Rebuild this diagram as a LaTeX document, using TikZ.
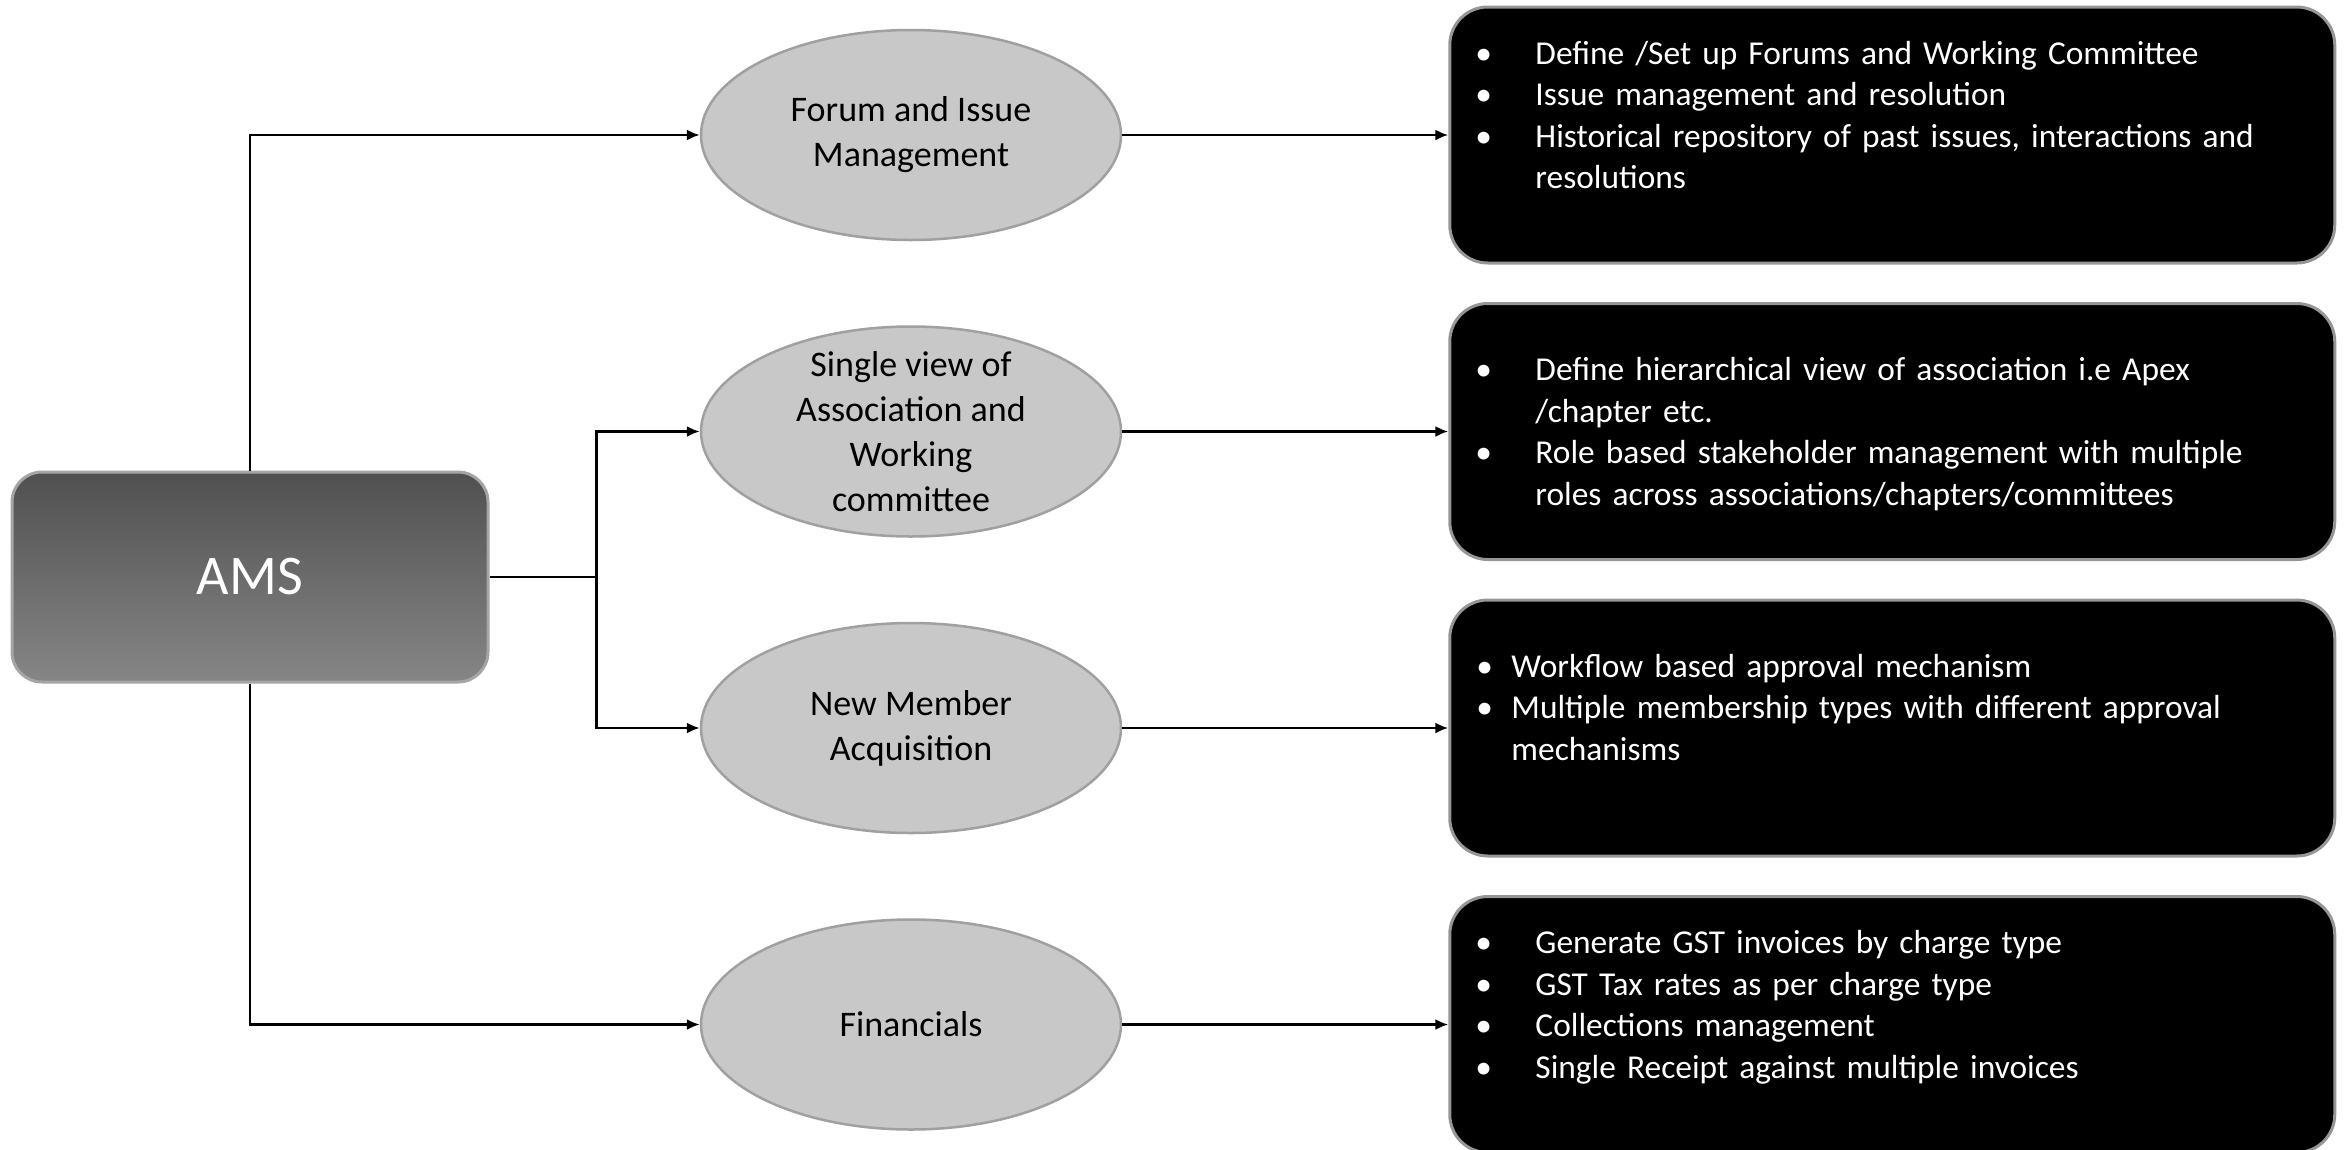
\documentclass[tikz,border=0pt]{standalone}
\usepackage{fontspec}
\setmainfont{Carlito}
\usepackage{enumitem}
\usetikzlibrary{shapes.geometric,positioning,arrows.meta}

\definecolor{amstop}{RGB}{80,80,80}
\definecolor{amsbot}{RGB}{134,134,134}
\definecolor{amsline}{RGB}{165,165,165}
\definecolor{ovalfill}{RGB}{200,200,200}
\definecolor{ovalline}{RGB}{160,160,160}
\definecolor{boxline}{RGB}{150,150,150}

\newlist{feats}{itemize}{1}
\setlist[feats]{label=\textbullet, leftmargin=60pt, labelwidth=60pt, labelsep=0pt, align=left,
  itemsep=0pt, topsep=0pt, parsep=0pt, partopsep=0pt}

\begin{document}
\begin{tikzpicture}[x=1pt, y=-1pt,
        node distance=84pt and 326pt,
        link/.style={->, line width=2.2pt, >={Latex[length=13pt, width=11pt]}},
        root/.style={draw=amsline, line width=3pt, rounded corners=30pt, top color=amstop, bottom color=amsbot,
          minimum width=476pt, minimum height=210pt, text=white, font=\fontsize{56}{67}\selectfont},
        topic/.style={ellipse, draw=ovalline, line width=2.5pt, fill=ovalfill, minimum width=420pt,
          minimum height=210pt, inner sep=0pt, align=center, font=\fontsize{36}{45}\selectfont},
        detail/.style={draw=boxline, line width=3pt, rounded corners=38pt, fill=black,
          minimum width=885pt, minimum height=256pt},
        points/.style={anchor=north west, inner sep=0pt, text=white, text width=830pt, align=left,
          font=\fontsize{33.4}{41.5}\selectfont}
    ]
    \useasboundingbox (0,0) rectangle (2349,1149);

    % Nodes
    \node[root] (ams) at (250,577) {AMS};

    \node[topic] (forum) at (911,135) {Forum and Issue\\Management};
    \node[topic, below=of forum, inner ysep=-30pt] (single) {Single view of\\Association and\\Working\\committee};
    \node[topic, below=of single] (newmem) {New Member\\Acquisition};
    \node[topic, below=of newmem] (fin) {Financials};

    \node[detail, right=of forum] (d1) {};
    \node[detail, right=of single] (d2) {};
    \node[detail, right=of newmem] (d3) {};
    \node[detail, right=of fin] (d4) {};

    \node[points] (d1t) at ([xshift=27pt, yshift=-17pt]d1.north west) {\begin{feats}
        \item Define /Set up Forums and Working Committee
        \item Issue management and resolution
        \item Historical repository of past issues, interactions and\\resolutions
      \end{feats}};
    \node[points] (d2t) at ([xshift=27pt, yshift=-37pt]d2.north west) {\begin{feats}
        \item Define hierarchical view of association i.e Apex\\/chapter etc.
        \item Role based stakeholder management with multiple\\roles across associations/chapters/committees
      \end{feats}};
    \node[points] (d3t) at ([xshift=28pt, yshift=-37pt]d3.north west) {\begin{feats}[leftmargin=35pt, labelwidth=35pt]
        \item Workflow based approval mechanism
        \item Multiple membership types with different approval\\mechanisms
      \end{feats}};
    \node[points] (d4t) at ([xshift=27pt, yshift=-17pt]d4.north west) {\begin{feats}
        \item Generate GST invoices by charge type
        \item GST Tax rates as per charge type
        \item Collections management
        \item Single Receipt against multiple invoices
      \end{feats}};

    % Edges
    \draw[link] (ams.north) |- (forum.west);
    \draw[link] (ams.south) |- (fin.west);
    \draw[link] (ams.east) -- ++(107,0) coordinate (fork) |- (single.west);
    \draw[link] (fork) |- (newmem.west);

    \draw[link] (forum.east) -- (forum.east -| d1.west);
    \draw[link] (single.east) -- (single.east -| d2.west);
    \draw[link] (newmem.east) -- (newmem.east -| d3.west);
    \draw[link] (fin.east) -- (fin.east -| d4.west);

\end{tikzpicture}
\end{document}
